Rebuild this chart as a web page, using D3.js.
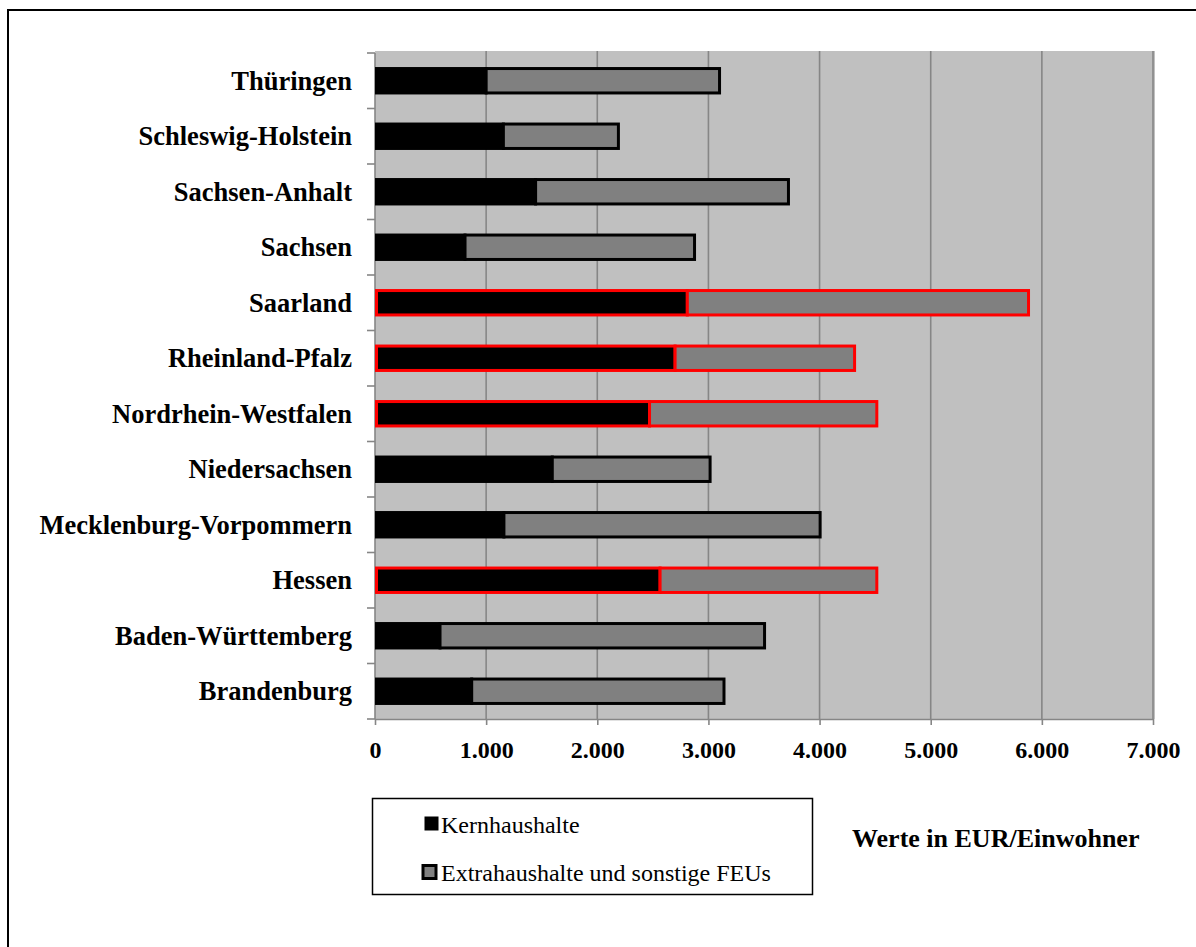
<!DOCTYPE html>
<html>
<head>
<meta charset="utf-8">
<script src="https://cdn.jsdelivr.net/npm/d3@7"></script>
<style>
	body { margin: 0; background: #fff; }
	svg { display: block; font-family: "Liberation Serif", "Times New Roman", serif; }
</style>
</head>
<body>
<svg width="1196" height="947"></svg>
<script>
//data (bottom to top, like the original)
const laender = ['Brandenburg', 'Baden-Württemberg', 'Hessen', 'Mecklenburg-Vorpommern', 'Niedersachsen',
	'Nordrhein-Westfalen', 'Rheinland-Pfalz', 'Saarland', 'Sachsen', 'Sachsen-Anhalt', 'Schleswig-Holstein', 'Thüringen'];
const kernhaushalte = [870, 585, 2565, 1160, 1595, 2470, 2700, 2810, 810, 1445, 1155, 1000];
const extrahaushalte = [2270, 2920, 1950, 2845, 1420, 2045, 1615, 3070, 2065, 2275, 1035, 2100];
const markiert = ['Hessen', 'Nordrhein-Westfalen', 'Rheinland-Pfalz', 'Saarland'];
const xTicks = [0, 1000, 2000, 3000, 4000, 5000, 6000, 7000];
const legendItems = ['Kernhaushalte', 'Extrahaushalte und sonstige FEUs'];

//config
const plot = {left: 375, right: 1155, top: 53, bottom: 719};
const svg = d3.select('svg');
const fmt = d => d3.format(',')(d).replace(/,/g, '.');

const x = d3.scaleLinear().domain([0, 7000]).range([plot.left, 1153]);
const y = d3.scaleBand().domain(laender).range([plot.bottom, plot.top]).paddingInner(0.56).paddingOuter(0.28);

const data = laender.map((l, i) => ({
	land: l,
	kern: kernhaushalte[i],
	extra: extrahaushalte[i],
	rot: markiert.includes(l)
}));

//outer frame (runs off the right and bottom edge)
svg.append('path')
	.attr('d', 'M8,947 L8,10 L1196,10')
	.attr('fill', 'none')
	.attr('stroke', '#000')
	.attr('stroke-width', 2);

//plot background
svg.append('rect')
	.attr('x', plot.left)
	.attr('y', plot.top - 2)
	.attr('width', plot.right - plot.left)
	.attr('height', plot.bottom - plot.top + 2)
	.attr('fill', '#c0c0c0');

//grid lines
svg.append('g')
	.selectAll('line')
	.data(xTicks.slice(1))
	.join('line')
	.attr('x1', d => x(d))
	.attr('x2', d => x(d))
	.attr('y1', plot.top - 2)
	.attr('y2', plot.bottom)
	.attr('stroke', '#868686')
	.attr('stroke-width', 1.6);

//x axis
const xAxis = svg.append('g')
	.attr('transform', `translate(0,${plot.bottom})`)
	.call(d3.axisBottom(x).tickValues(xTicks).tickFormat(fmt).tickSize(6).tickSizeOuter(0).tickPadding(16));
xAxis.select('.domain').attr('stroke', '#868686').attr('stroke-width', 1.6);
xAxis.selectAll('.tick line').attr('stroke', '#868686').attr('stroke-width', 1.6);
xAxis.selectAll('.tick text')
	.attr('font-family', '"Liberation Serif", serif')
	.attr('font-size', 24)
	.attr('font-weight', 'bold')
	.attr('fill', '#000');

//y axis: ticks sit on band borders, labels in the middle
const yAxis = svg.append('g').attr('transform', `translate(${plot.left},0)`);
const borders = d3.range(laender.length + 1).map(i => plot.bottom - i * (plot.bottom - plot.top) / laender.length);
yAxis.append('line')
	.attr('x1', 0).attr('x2', 0)
	.attr('y1', plot.top).attr('y2', plot.bottom)
	.attr('stroke', '#868686')
	.attr('stroke-width', 1.6);
yAxis.selectAll('.ytick')
	.data(borders)
	.join('line')
	.attr('class', 'ytick')
	.attr('x1', -8).attr('x2', 0)
	.attr('y1', d => d).attr('y2', d => d)
	.attr('stroke', '#868686')
	.attr('stroke-width', 1.6);
yAxis.selectAll('text')
	.data(laender)
	.join('text')
	.attr('x', -23)
	.attr('y', d => y(d) + y.bandwidth() / 2)
	.attr('dy', '0.34em')
	.attr('text-anchor', 'end')
	.attr('font-size', 26.5)
	.attr('font-weight', 'bold')
	.text(d => d);

//bars
const bars = svg.append('g')
	.selectAll('g')
	.data(data)
	.join('g');

bars.append('rect')
	.attr('x', d => x(0) + 1.5)
	.attr('y', d => y(d.land))
	.attr('width', d => x(d.kern) - x(0) - 1.5)
	.attr('height', y.bandwidth())
	.attr('fill', '#000')
	.attr('stroke', d => d.rot ? '#ff0000' : '#000')
	.attr('stroke-width', 3);

bars.append('rect')
	.attr('x', d => x(d.kern))
	.attr('y', d => y(d.land))
	.attr('width', d => x(d.kern + d.extra) - x(d.kern))
	.attr('height', y.bandwidth())
	.attr('fill', '#808080')
	.attr('stroke', d => d.rot ? '#ff0000' : '#000')
	.attr('stroke-width', 3);

//legend
const legend = svg.append('g');
legend.append('rect')
	.attr('x', 372.5)
	.attr('y', 798.5)
	.attr('width', 440)
	.attr('height', 96)
	.attr('fill', '#fff')
	.attr('stroke', '#000')
	.attr('stroke-width', 1.5);

const li = legend.selectAll('.item')
	.data(legendItems)
	.join('g')
	.attr('class', 'item')
	.attr('transform', (d, i) => `translate(0,${i * 48})`);

li.append('rect')
	.attr('x', (d, i) => i ? 423 : 425)
	.attr('y', (d, i) => i ? 817.5 : 817)
	.attr('width', 13)
	.attr('height', 13)
	.attr('fill', (d, i) => i ? '#808080' : '#000')
	.attr('stroke', '#000')
	.attr('stroke-width', (d, i) => i ? 3 : 1);

li.append('text')
	.attr('x', 441)
	.attr('y', 833)
	.attr('font-size', 24)
	.text(d => d);

//unit note
svg.append('text')
	.attr('x', 852)
	.attr('y', 847)
	.attr('font-size', 26)
	.attr('font-weight', 'bold')
	.text('Werte in EUR/Einwohner');
</script>
</body>
</html>
